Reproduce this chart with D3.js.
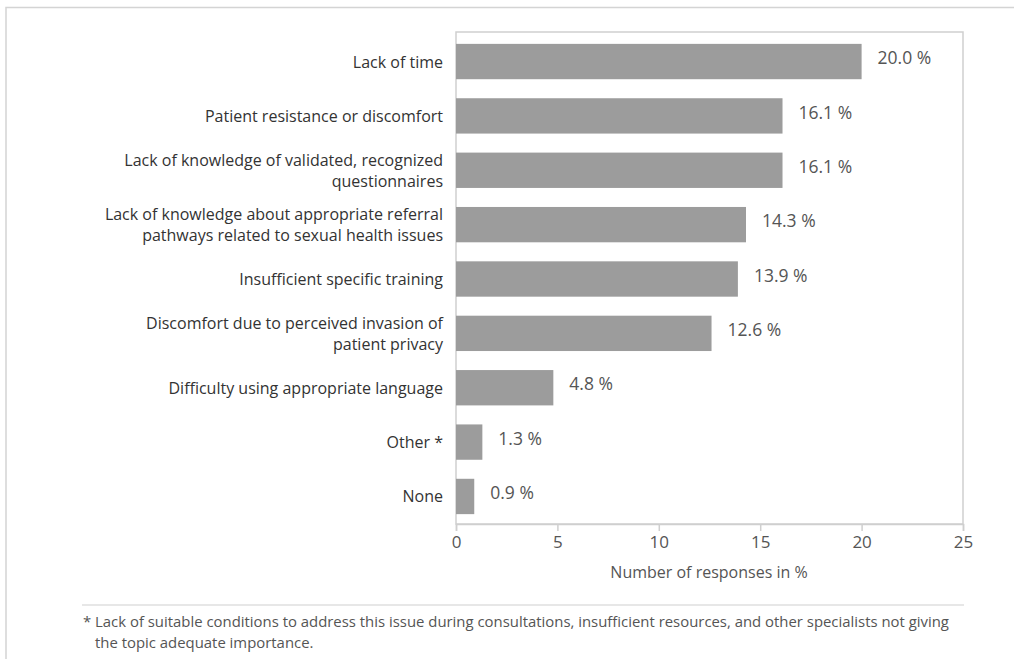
<!DOCTYPE html>
<html><head><meta charset="utf-8">
<script src="https://cdn.jsdelivr.net/npm/d3@7"></script>
<style>
body{margin:0;background:#fff;}
svg{display:block;}
</style></head>
<body><svg id="c" width="1014" height="659"></svg>
<script>
const categories = [
  ["Lack of time"],
  ["Patient resistance or discomfort"],
  ["Lack of knowledge of validated, recognized", "questionnaires"],
  ["Lack of knowledge about appropriate referral", "pathways related to sexual health issues"],
  ["Insufficient specific training"],
  ["Discomfort due to perceived invasion of", "patient privacy"],
  ["Difficulty using appropriate language"],
  ["Other *"],
  ["None"]
];
const values = [20.0, 16.1, 16.1, 14.3, 13.9, 12.6, 4.8, 1.3, 0.9];
const xTicks = [0, 5, 10, 15, 20, 25];
const xTitle = "Number of responses in %";
const footnote = [
  "* Lack of suitable conditions to address this issue during consultations, insufficient resources, and other specialists not giving",
  "the topic adequate importance."
];

const svg = d3.select("#c");
const font = "'Open Sans', 'Noto Sans', sans-serif";
const pLeft = 456, pRight = 963, pTop = 32, pBottom = 524;

// outer frame
svg.append("path").attr("d", "M6,659 V7.5 H1014").attr("fill", "none")
  .attr("stroke", "#d4d4d4").attr("stroke-width", 1.5);

const x = d3.scaleLinear().domain([0, 25]).range([pLeft, pRight]);
const y = d3.scaleBand().domain(d3.range(categories.length)).range([pTop, pBottom]).paddingInner(0.35).paddingOuter(0.2);

// plot box
svg.append("rect").attr("x", pLeft).attr("y", pTop).attr("width", pRight - pLeft).attr("height", pBottom - pTop)
  .attr("fill", "none").attr("stroke", "#cfcfcf").attr("stroke-width", 1.5);

// bars
svg.selectAll("rect.bar").data(values).enter().append("rect").attr("class", "bar")
  .attr("x", x(0)).attr("y", (d, i) => y(i) + 1)
  .attr("width", d => x(d) - x(0)).attr("height", y.bandwidth())
  .attr("fill", "#9c9c9c");

// value labels
svg.selectAll("text.val").data(values).enter().append("text").attr("class", "val")
  .attr("x", d => x(d) + 16).attr("y", (d, i) => y(i) + 1 + y.bandwidth() / 2)
  .attr("dy", "0.15em")
  .attr("font-family", font).attr("font-size", 17.5).attr("fill", "#555")
  .text(d => d.toFixed(1) + " %");

// category labels
const cl = svg.selectAll("text.cat").data(categories).enter().append("text").attr("class", "cat")
  .attr("text-anchor", "end").attr("font-family", font).attr("font-size", 16).attr("fill", "#333");
cl.each(function(lines, i) {
  const t = d3.select(this);
  const cy = y(i) + 1 + y.bandwidth() / 2;
  const lh = 21;
  lines.forEach((ln, j) => {
    t.append("tspan").attr("x", pLeft - 13)
      .attr("y", cy + (j - (lines.length - 1) / 2) * lh + 6)
      .text(ln);
  });
});

// x axis
const ax = svg.append("g").attr("transform", `translate(0,${pBottom})`)
  .call(d3.axisBottom(x).tickValues(xTicks).tickSize(7).tickPadding(5).tickFormat(d3.format("d")));
ax.select(".domain").attr("stroke", "#cfcfcf").attr("stroke-width", 1.5);
ax.selectAll(".tick line").attr("stroke", "#cfcfcf").attr("stroke-width", 1.5);
ax.selectAll(".tick text").attr("font-family", font).attr("font-size", 17).attr("fill", "#555");

svg.append("text").attr("x", 709).attr("y", 578).attr("text-anchor", "middle")
  .attr("font-family", font).attr("font-size", 16).attr("fill", "#555").text(xTitle);

// footnote
svg.append("line").attr("x1", 82).attr("x2", 964).attr("y1", 605).attr("y2", 605)
  .attr("stroke", "#cfcfcf").attr("stroke-width", 1.2);
const fn = svg.append("text").attr("font-family", font)
  .attr("font-size", 14.9).attr("fill", "#555");
fn.append("tspan").attr("x", 83).attr("y", 627).text(footnote[0]);
fn.append("tspan").attr("x", 95).attr("y", 648).text(footnote[1]);
</script>
</body></html>
